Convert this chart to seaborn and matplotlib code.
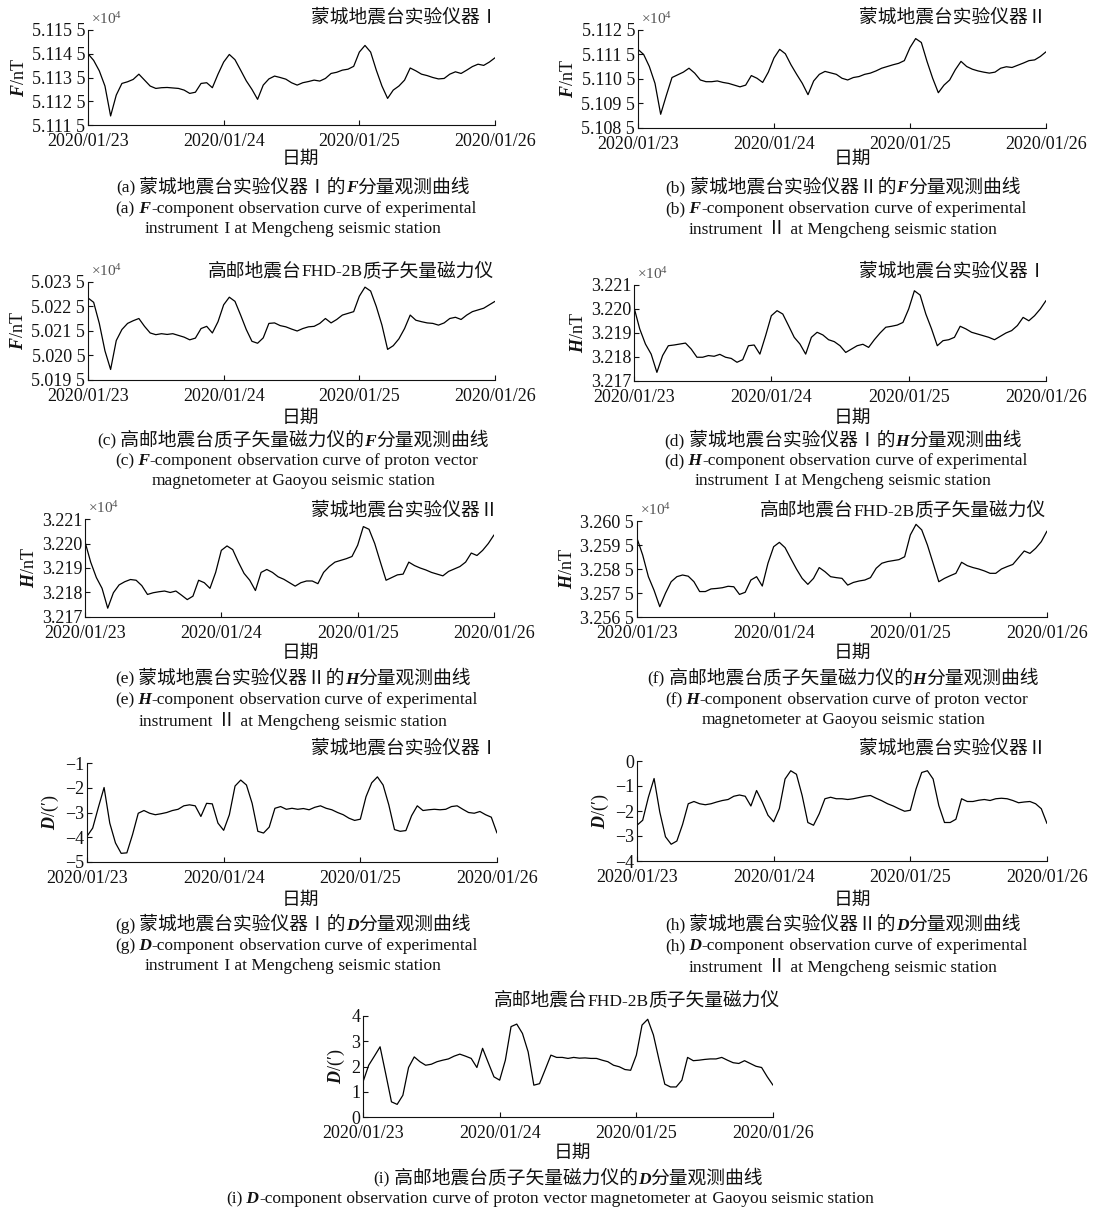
"""Geomagnetic F / H / D observation curves, Mengcheng vs Gaoyou, 2020/01/23-26.
Nine small panels laid out by pixel boxes, captions under each one."""

import matplotlib

matplotlib.use('Agg')
import matplotlib.pyplot as plt
import numpy as np
import seaborn as sns
from matplotlib.offsetbox import AnchoredOffsetbox, HPacker, TextArea

W, H = 1099, 1209
INK = '#111111'
FAMILY = ['Liberation Serif', 'Noto Sans CJK SC', 'DejaVu Sans']
CJK = ['Noto Sans CJK SC', 'DejaVu Sans']
FS = 12.5
FS_CJK = 13.5

HOURS = np.arange(73)
DATE_TICKS = [0, 24, 48, 72]
DATE_LABELS = ['2020/01/23', '2020/01/24', '2020/01/25', '2020/01/26']

# hourly readings, nT for F and H, arc-minutes for D
F_MC1 = [51145.0, 51142.2, 51137.8, 51131.4, 51118.8, 51127.6, 51132.5, 51133.2, 51134.2, 51136.4,
         51133.9, 51131.4, 51130.4, 51130.7, 51130.8, 51130.6, 51130.4, 51129.7, 51128.3, 51128.8,
         51132.5, 51132.8, 51130.7, 51136.4, 51141.5, 51144.7, 51142.5, 51138.1, 51133.6, 51130.0,
         51125.8, 51131.8, 51134.4, 51135.6, 51135.0, 51134.3, 51132.8, 51131.8, 51132.8, 51133.3,
         51133.9, 51133.5, 51134.6, 51136.7, 51137.2, 51138.1, 51138.5, 51139.7, 51145.7, 51148.5,
         51145.7, 51138.1, 51131.4, 51126.2, 51129.7, 51131.4, 51133.9, 51139.0, 51137.8, 51136.4,
         51135.8, 51135.0, 51134.4, 51134.6, 51136.4, 51137.4, 51136.7, 51138.1, 51139.6, 51140.6,
         51140.1, 51141.5, 51143.3]
F_MC2 = [51117.1, 51115.0, 51110.1, 51103.2, 51090.6, 51098.3, 51105.6, 51106.7, 51107.8, 51109.4,
         51107.4, 51104.6, 51103.9, 51103.9, 51104.2, 51103.6, 51103.2, 51102.5, 51101.8, 51102.5,
         51106.4, 51105.3, 51103.6, 51107.8, 51113.6, 51117.1, 51115.3, 51110.8, 51106.9, 51103.2,
         51098.6, 51104.2, 51106.9, 51108.1, 51107.5, 51106.9, 51105.3, 51104.6, 51105.6, 51106.0,
         51106.9, 51107.4, 51108.3, 51109.4, 51110.1, 51110.8, 51111.4, 51112.5, 51117.8, 51121.5,
         51119.9, 51112.2, 51105.3, 51099.4, 51102.5, 51104.6, 51108.8, 51112.2, 51110.1, 51109.0,
         51108.3, 51107.8, 51107.4, 51107.8, 51109.4, 51110.0, 51109.7, 51110.6, 51111.5, 51112.5,
         51112.8, 51114.2, 51116.1]
F_GY = [50228.5, 50226.7, 50218.1, 50206.9, 50199.3, 50211.1, 50215.6, 50218.1, 50219.2, 50220.1,
        50216.9, 50214.2, 50213.5, 50213.9, 50213.6, 50213.9, 50213.2, 50212.5, 50211.4, 50212.1,
        50216.0, 50216.9, 50214.2, 50218.8, 50225.7, 50228.8, 50227.1, 50221.5, 50215.6, 50210.8,
        50210.0, 50212.2, 50218.1, 50218.3, 50217.2, 50216.7, 50215.8, 50215.0, 50216.0, 50216.7,
        50216.9, 50218.1, 50220.1, 50218.3, 50219.7, 50221.5, 50222.2, 50222.9, 50229.2, 50232.9,
        50231.3, 50225.0, 50217.4, 50207.5, 50209.0, 50211.8, 50216.0, 50221.5, 50219.4, 50218.8,
        50218.3, 50218.1, 50217.4, 50218.3, 50220.1, 50220.6, 50219.7, 50221.5, 50222.9, 50223.6,
        50224.3, 50225.7, 50227.1]
H_MC1 = [32200.7, 32191.7, 32185.4, 32181.2, 32173.6, 32180.6, 32184.7, 32185.0, 32185.4, 32185.8,
         32183.3, 32179.9, 32179.9, 32180.6, 32180.3, 32181.1, 32179.9, 32179.4, 32177.8, 32178.9,
         32184.7, 32185.0, 32181.2, 32188.9, 32197.2, 32199.3, 32197.9, 32193.1, 32188.2, 32185.4,
         32181.2, 32188.2, 32190.3, 32189.2, 32187.2, 32186.4, 32184.7, 32181.9, 32183.3, 32184.7,
         32185.3, 32184.0, 32187.2, 32190.0, 32192.4, 32192.8, 32193.3, 32194.4, 32200.0, 32207.6,
         32205.8, 32197.9, 32191.7, 32184.7, 32186.8, 32187.2, 32188.2, 32192.8, 32191.7, 32190.3,
         32189.6, 32188.9, 32188.2, 32187.2, 32188.6, 32190.0, 32191.0, 32193.1, 32196.5, 32195.1,
         32197.2, 32200.0, 32203.5]
H_MC2 = [32200.7, 32192.4, 32186.1, 32181.7, 32173.6, 32179.9, 32183.1, 32184.4, 32185.3, 32185.0,
         32182.8, 32179.2, 32179.9, 32180.3, 32180.6, 32180.0, 32180.6, 32178.9, 32177.1, 32178.5,
         32185.0, 32184.0, 32181.7, 32188.2, 32197.2, 32199.0, 32197.5, 32192.4, 32187.8, 32185.0,
         32180.8, 32188.2, 32189.4, 32188.2, 32186.4, 32185.4, 32184.0, 32182.6, 32184.0, 32184.7,
         32184.7, 32183.6, 32188.2, 32190.6, 32192.4, 32193.1, 32193.8, 32194.7, 32199.3, 32206.9,
         32205.8, 32200.0, 32192.4, 32185.0, 32186.1, 32187.2, 32187.5, 32192.4, 32191.0, 32190.0,
         32189.2, 32188.2, 32187.5, 32186.8, 32188.6, 32189.6, 32190.6, 32192.4, 32196.1, 32195.1,
         32197.2, 32200.0, 32203.5]
H_GY = [32597.8, 32590.8, 32581.8, 32576.1, 32569.3, 32574.9, 32579.7, 32581.8, 32582.5, 32582.0,
        32579.7, 32575.6, 32575.6, 32576.7, 32576.9, 32577.2, 32577.8, 32577.6, 32574.4, 32575.3,
        32580.4, 32581.8, 32577.9, 32587.4, 32594.3, 32596.1, 32593.9, 32589.4, 32585.0, 32581.1,
        32578.6, 32581.1, 32585.6, 32583.9, 32581.8, 32581.4, 32581.1, 32578.3, 32579.4, 32580.0,
        32580.4, 32581.4, 32585.3, 32587.4, 32588.1, 32588.5, 32588.9, 32590.1, 32599.2, 32603.6,
        32601.3, 32595.0, 32587.4, 32579.7, 32581.1, 32582.2, 32583.2, 32587.8, 32586.4, 32585.6,
        32585.0, 32584.2, 32583.2, 32583.2, 32585.0, 32586.0, 32586.9, 32589.7, 32592.5, 32591.5,
        32593.6, 32596.4, 32600.8]
D_MC1 = [-3.96, -3.63, -2.79, -1.99, -3.43, -4.23, -4.65, -4.63, -3.89, -3.03,
         -2.92, -3.03, -3.09, -3.05, -3.00, -2.92, -2.87, -2.73, -2.69, -2.73,
         -3.16, -2.63, -2.65, -3.43, -3.72, -3.09, -1.93, -1.69, -1.89, -2.63,
         -3.76, -3.83, -3.59, -2.83, -2.76, -2.87, -2.83, -2.87, -2.84, -2.89,
         -2.79, -2.73, -2.83, -2.89, -3.00, -3.09, -3.23, -3.32, -3.27, -2.36,
         -1.80, -1.56, -1.89, -2.69, -3.69, -3.76, -3.73, -3.13, -2.73, -2.92,
         -2.89, -2.87, -2.89, -2.87, -2.76, -2.73, -2.87, -3.00, -3.03, -2.96,
         -3.09, -3.19, -3.83]
D_MC2 = [-2.57, -2.37, -1.45, -0.70, -2.04, -3.03, -3.33, -3.20, -2.54, -1.71,
         -1.62, -1.71, -1.75, -1.71, -1.64, -1.58, -1.54, -1.41, -1.36, -1.41,
         -1.80, -1.18, -1.64, -2.17, -2.43, -1.90, -0.72, -0.39, -0.53, -1.38,
         -2.46, -2.57, -2.11, -1.51, -1.45, -1.51, -1.51, -1.54, -1.51, -1.46,
         -1.41, -1.38, -1.49, -1.59, -1.71, -1.80, -1.91, -2.01, -1.97, -1.12,
         -0.46, -0.39, -0.72, -1.78, -2.46, -2.46, -2.33, -1.51, -1.62, -1.62,
         -1.57, -1.54, -1.58, -1.51, -1.49, -1.51, -1.58, -1.67, -1.64, -1.62,
         -1.71, -1.91, -2.50]
D_GY = [1.39, 2.05, 2.41, 2.78, 1.70, 0.60, 0.50, 0.86, 1.96, 2.38,
        2.19, 2.05, 2.09, 2.19, 2.25, 2.30, 2.41, 2.49, 2.41, 2.32,
        1.96, 2.72, 2.15, 1.59, 1.46, 2.25, 3.58, 3.68, 3.31, 2.58,
        1.26, 1.32, 1.88, 2.45, 2.36, 2.36, 2.32, 2.36, 2.33, 2.34,
        2.32, 2.32, 2.25, 2.19, 2.05, 1.99, 1.88, 1.85, 2.45, 3.64,
        3.87, 3.25, 2.25, 1.30, 1.19, 1.19, 1.46, 2.36, 2.23, 2.25,
        2.28, 2.30, 2.30, 2.36, 2.25, 2.15, 2.12, 2.23, 2.12, 2.01,
        1.96, 1.59, 1.26]

# y ticks in nT, labelled in units of 10^4 nT with the journal's digit grouping
F_MC1_TICKS = [51115, 51125, 51135, 51145, 51155]
F_MC1_LABELS = ['5.111 5', '5.112 5', '5.113 5', '5.114 5', '5.115 5']
F_MC2_TICKS = [51085, 51095, 51105, 51115, 51125]
F_MC2_LABELS = ['5.108 5', '5.109 5', '5.110 5', '5.111 5', '5.112 5']
F_GY_TICKS = [50195, 50205, 50215, 50225, 50235]
F_GY_LABELS = ['5.019 5', '5.020 5', '5.021 5', '5.022 5', '5.023 5']
H_MC_TICKS = [32170, 32180, 32190, 32200, 32210]
H_MC_LABELS = ['3.217', '3.218', '3.219', '3.220', '3.221']
H_GY_TICKS = [32565, 32575, 32585, 32595, 32605]
H_GY_LABELS = ['3.256 5', '3.257 5', '3.258 5', '3.259 5', '3.260 5']
D_MC1_TICKS = [-5, -4, -3, -2, -1]
D_MC2_TICKS = [-4, -3, -2, -1, 0]
D_GY_TICKS = [0, 1, 2, 3, 4]

MC1 = '蒙城地震台实验仪器Ⅰ'
MC2 = '蒙城地震台实验仪器Ⅱ'
GY = '高邮地震台FHD-2B质子矢量磁力仪'
GY_CN = '高邮地震台质子矢量磁力仪'
EN_MC1 = ('experimental', 'instrument I at Mengcheng seismic station')
EN_MC2 = ('experimental', 'instrument Ⅱ at Mengcheng seismic station')
EN_GY = ('proton vector', 'magnetometer at Gaoyou seismic station')

# row text y: (title, xlabel, caption lines); column x: (xlabel, captions)
LEFT, RIGHT = (300, 293), (852, 843)
ROW1 = (17, 158, (187, 209, 229))
ROW2 = (271, 417, (440, 461, 481))
ROW3 = (510, 652, (678, 700, 720))
ROW4 = (748, 899, (924, 946, 966))
ROW5 = (1000, 1152, (1178, 1199))
PANELS = [
    ('a', F_MC1, F_MC1_TICKS, F_MC1_LABELS, 'F', 'nT', MC1, MC1, EN_MC1, (88, 495, 30, 125), ROW1, LEFT, 498),
    ('b', F_MC2, F_MC2_TICKS, F_MC2_LABELS, 'F', 'nT', MC2, MC2, EN_MC2, (638, 1046, 30, 128), ROW1, RIGHT, 1046),
    ('c', F_GY, F_GY_TICKS, F_GY_LABELS, 'F', 'nT', GY, GY_CN, EN_GY, (88, 495, 282, 380), ROW2, LEFT, 494),
    ('d', H_MC1, H_MC_TICKS, H_MC_LABELS, 'H', 'nT', MC1, MC1, EN_MC1, (634, 1046, 285, 381), ROW2, RIGHT, 1046),
    ('e', H_MC2, H_MC_TICKS, H_MC_LABELS, 'H', 'nT', MC2, MC2, EN_MC2, (85, 494, 519, 617), ROW3, LEFT, 498),
    ('f', H_GY, H_GY_TICKS, H_GY_LABELS, 'H', 'nT', GY, GY_CN, EN_GY, (637, 1047, 521, 617), ROW3, RIGHT, 1046),
    ('g', D_MC1, D_MC1_TICKS, None, 'D', "(′)", MC1, MC1, EN_MC1, (87, 497, 763, 862), ROW4, LEFT, 498),
    ('h', D_MC2, D_MC2_TICKS, None, 'D', "(′)", MC2, MC2, EN_MC2, (637, 1047, 761, 861), ROW4, RIGHT, 1046),
    ('i', D_GY, D_GY_TICKS, None, 'D', "(′)", GY, GY_CN, None, (363, 773, 1016, 1117), ROW5, (572, 568), 780),
]


def style() -> None:
    sns.set_theme(style='ticks')
    plt.rcParams.update(
        {
            'font.family': FAMILY,
            'font.size': FS,
            'text.color': INK,
            'axes.edgecolor': INK,
            'axes.labelcolor': INK,
            'axes.linewidth': 0.8,
            'xtick.color': INK,
            'ytick.color': INK,
            'mathtext.fontset': 'custom',
            'mathtext.rm': 'Liberation Serif',
            'mathtext.it': 'Liberation Serif:italic',
            'mathtext.bf': 'Liberation Serif:bold',
            'mathtext.bfit': 'Liberation Serif:italic:bold',
            'figure.facecolor': 'white',
            'savefig.facecolor': 'white',
        }
    )


def fig_xy(x, y):
    return x / W, 1 - y / H


def is_cjk(ch: str) -> bool:
    return ord(ch) >= 0x2E80 or 0x2160 <= ord(ch) <= 0x217F


def split_runs(s: str) -> list[tuple[str, bool]]:
    """Split into latin / CJK runs; spaces ride at the head of the next run."""
    runs: list[tuple[str, bool]] = []
    pending = ''
    for ch in s:
        if ch == ' ':
            pending += ch
            continue
        kind = is_cjk(ch)
        if runs and runs[-1][1] == kind and not pending:
            runs[-1] = (runs[-1][0] + ch, kind)
        else:
            runs.append((pending + ch, kind))
        pending = ''
    return runs


def rich(fig, x, y, parts, loc='center', cjk_weight='normal'):
    """One line of mixed text; parts flagged True are bold italic symbols."""
    boxes = []
    for s, sym in parts:
        if sym:
            props = {
                'fontsize': FS,
                'color': INK,
                'family': ['Liberation Serif'],
                'fontweight': 'bold',
                'fontstyle': 'italic',
            }
            boxes.append(TextArea(s, textprops=props))
            continue
        for run, cjk in split_runs(s):
            props = {'fontsize': FS, 'color': INK, 'family': FAMILY}
            if cjk:
                props.update(fontsize=FS_CJK, family=CJK, fontweight=cjk_weight)
            boxes.append(TextArea(run, textprops=props))
    pack = HPacker(children=boxes, align='baseline', pad=0, sep=0)
    box = AnchoredOffsetbox(
        loc=loc,
        child=pack,
        pad=0,
        borderpad=0,
        frameon=False,
        bbox_to_anchor=fig_xy(x, y),
        bbox_transform=fig.transFigure,
    )
    fig.add_artist(box)


def draw_panel(fig, p) -> None:
    key, series, ticks, labels, comp, unit, title, cn, en, box, row, col, title_x = p
    L, R, T, B = box
    ax = fig.add_axes([L / W, 1 - B / H, (R - L) / W, (B - T) / H])
    sns.lineplot(x=HOURS, y=series, ax=ax, color='black', linewidth=0.9)
    ax.set_xlim(0, 72)
    ax.set_ylim(ticks[0], ticks[-1])
    ax.set_xticks(DATE_TICKS, DATE_LABELS)
    if labels:
        ax.set_yticks(ticks, labels)
    else:
        ax.set_yticks(ticks)
    ax.tick_params(direction='in', length=3.5, width=0.8, labelsize=13, pad=2)
    ax.tick_params(axis='x', pad=6)
    ax.set_xlabel('')
    ax.set_ylabel(rf'$\mathbfit{{{comp}}}$/{unit}', fontsize=13, labelpad=3)
    sns.despine(ax=ax)

    title_y, xlabel_y, cap_ys = row
    xlabel_x, cap_x = col
    rich(fig, title_x, title_y, [(title, False)], loc='center right')
    fig.text(
        *fig_xy(xlabel_x, xlabel_y), '日期', ha='center', va='center', fontsize=FS_CJK, family=CJK
    )
    if labels and unit == 'nT':
        fig.text(
            *fig_xy(L + 3, T - 11),
            r'$\times10^{4}$',
            ha='left',
            va='center',
            fontsize=11,
            color='#555555',
        )

    rich(
        fig,
        cap_x,
        cap_ys[0],
        [(f'({key}) {cn}的', False), (comp, True), ('分量观测曲线', False)],
        cjk_weight='medium',
    )
    if en is None:
        rich(
            fig,
            550,
            cap_ys[1],
            [
                (f'({key})', False),
                (f' {comp}', True),
                ('-component observation curve of proton vector magnetometer at Gaoyou seismic station', False),
            ],
        )
    else:
        rich(
            fig,
            cap_x + 3,
            cap_ys[1],
            [(f'({key})', False), (f' {comp}', True), (f'-component observation curve of {en[0]}', False)],
        )
        rich(fig, cap_x, cap_ys[2], [(en[1], False)])


def main() -> None:
    style()
    fig = plt.figure(figsize=(W / 100, H / 100), dpi=100)
    for p in PANELS:
        draw_panel(fig, p)
    fig.savefig('out.png', dpi=100)
    plt.close(fig)


if __name__ == '__main__':
    main()
